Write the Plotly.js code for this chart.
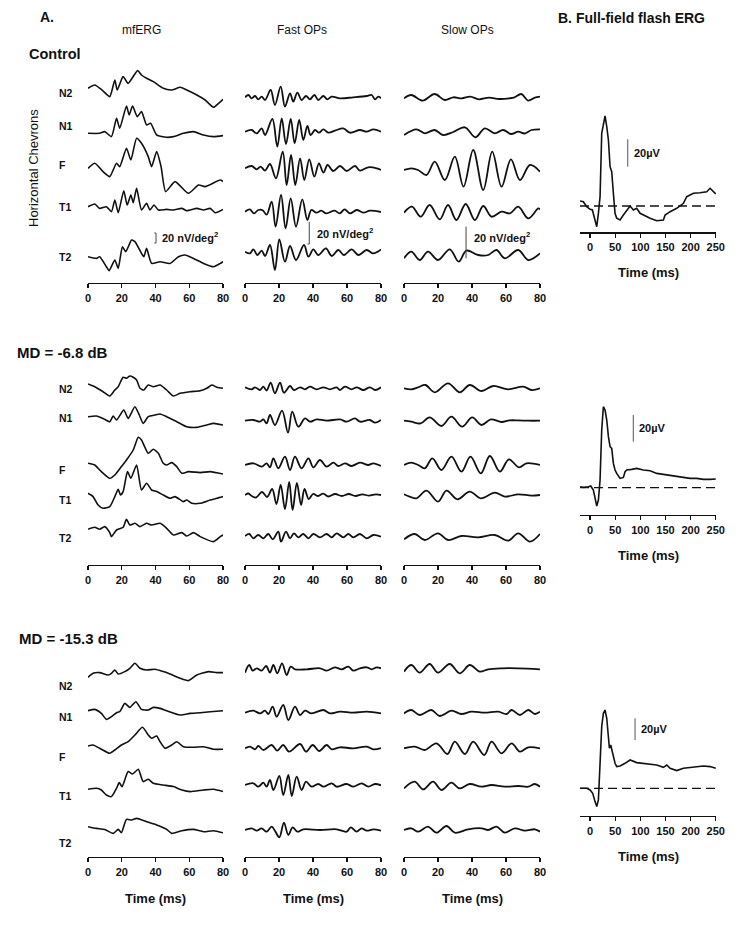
<!DOCTYPE html>
<html><head><meta charset="utf-8">
<script src="https://cdn.plot.ly/plotly-3.0.1.min.js"></script>
<style>html,body{margin:0;padding:0;background:#fff}#chart{width:750px;height:934px}</style>
</head><body><div id="chart"></div>
<script>
// ===== DATA (time in ms, amplitude in display units) =====
const traceNames = ['N2','N1','F','T1','T2'];
const mfTicks = [0,20,40,60,80];
const ffTicks = [0,50,100,150,200,250];

// ---- Control : mfERG ----
const ctrl_mf_N2_t = [0,4,8.5,12.9,15.9,17.3,20.8,23.8,29.4,31.7,34.7,38.7,44.6,49.6,54.6,58.5,64.5,69.4,74.4,77.4,80];
const ctrl_mf_N2_v = [-1,2.3,-3,-9.3,7.3,-2.7,10.7,4,16.7,12.3,9,5.7,-1,-2.7,0,-2.7,-7.7,-12.7,-20,-16,-12];
const ctrl_mf_N1_t = [0,6.9,9.9,13.9,16.9,18.8,22.8,24.4,26.4,29.2,31.7,34.7,37.1,40.7,46.6,50.6,56.5,62.5,68.5,74.4,80];
const ctrl_mf_N1_v = [0,0,1.7,-3.3,15,5,27.3,18.3,27.3,16.7,21.7,8.3,10,-1.7,-4,-3.3,0,1.7,-1.7,-3.3,-2.3];
const ctrl_mf_F_t = [0,4,8.9,12.9,16.9,18.8,22.8,25.4,28.8,31.7,35.7,37.7,40.7,43.3,46,51.6,59.5,65.5,69.4,78.4,80];
const ctrl_mf_F_v = [0,5,-3.3,-8.3,5,1.7,20,8.3,30,25,11.7,1.7,16.7,1.7,-23.3,-13.3,-25,-16.7,-18.3,-11.7,-13.3];
const ctrl_mf_T1_t = [0,4,6.9,10.9,13.9,15.9,17.9,21.2,23.2,25.4,26.8,28.8,31.7,34.7,36.7,39.1,41.7,46.6,50.6,55.6,58.5,64.5,68.5,72.4,75.4,80];
const ctrl_mf_T1_v = [0,2.7,-1.7,0,-5,6.7,-6,16,1.7,11.7,4,18.3,-3.3,3.3,-3.3,1.7,-3.3,-2.7,-3.3,-1.7,-4,-1.7,-3.3,-1.7,-6,-2.7];
const ctrl_mf_T2_t = [0,5,6.9,10.9,12.5,15.9,17.9,20.4,22.4,25.8,27.8,31.7,33.1,34.7,37.7,42.7,48.6,53.6,57.5,62.5,68.5,74.4,78.4,80];
const ctrl_mf_T2_v = [0,-1.7,0,-10,-14,-3.3,-11.7,10,5,16.7,15,3.3,0,8.3,-6.7,-5,-6.7,0,1.7,-1.7,-6.7,-10,-6.7,-5];

// ---- Control : Fast OPs ----
const ctrl_fast_N2_t = [0,2,3.9,5.9,7.8,9.8,11.8,15.1,17.6,21,23.5,26.5,28.4,30.8,33.3,35.9,38.2,40.8,43.1,46.1,48.4,51,55.9,63.7,71.6,74.5,76.5,78.4,80];
const ctrl_fast_N2_v = [0,2.3,-1,1.3,-2,0.7,-2.7,7.3,-7.7,10.7,-9.3,4,-4.3,4.7,-2.7,1.3,-2,2.3,-2.7,1.3,-2,0.7,-1,0,1.3,2.3,-2,0.7,-1];
const ctrl_fast_N1_t = [0,3.9,6.9,9.8,11.8,16.1,19,21.6,24.1,26.9,29.2,31.9,34.3,36.7,38.6,41.2,43.5,46.1,49,52.9,57.8,61.8,67.6,71.6,75.5,80];
const ctrl_fast_N1_v = [0,1.7,-1.7,3.3,-3.3,12.7,-15,13.3,-12.3,12.7,-11.7,11.7,-8.3,5.7,-3.3,1.7,-1,2.3,-1,1,3.3,-1,1.7,0,2.3,0];
const ctrl_fast_F_t = [0,3.9,6.9,9.2,11.8,14.7,18.2,22.2,24.5,27.1,29.6,32.4,34.9,37.8,40.8,43.5,46.1,48.6,51.9,55.9,59.8,64.7,67.6,72.5,77.5,80];
const ctrl_fast_F_v = [0,2.3,-1,1.7,-2.3,4.3,-10,16.7,-16.7,13.3,-16.7,10,-11.7,9,-8.3,5,-4.3,3.3,-2.7,2.3,-2.7,2.3,-2.3,1,0,-1.7];
const ctrl_fast_T1_t = [0,2.9,5.3,7.8,10.4,12.7,15.7,18,21.2,23.9,26.9,30,33.7,36.7,39,42,44.9,47.8,52.7,55.7,58.6,61.8,65.7,69.6,73.5,80];
const ctrl_fast_T1_v = [0,2.3,-1.7,1.7,1.5,-3,10,-15,16.7,-16.7,13.3,-15,12.3,-8.3,1.7,-1,1,-1.7,1,-1.7,2.3,-1.7,1.7,-1,1,-0.3];
const ctrl_fast_T2_t = [0,2.9,4.9,7.3,9.8,11.8,14.7,17.6,20.2,23.5,26.5,30,34.7,37.3,40.2,43.1,47.6,51,54.9,58.2,62.7,66.7,71.6,75.5,80];
const ctrl_fast_T2_v = [0,-1.7,2.3,-3.3,1,-4.3,6.7,-18.3,12.3,-10,5.7,-8.3,6.7,-5,2.3,-3.3,3.3,-4.3,1.7,-3.3,2.3,-3.3,1.7,-1.7,2.3];

// ---- Control : Slow OPs ----
const ctrl_slow_N2_t = [0,4.3,11,18,24,29,34,39,44,50,56,62,65,69,73,77,80];
const ctrl_slow_N2_v = [0,3.3,-2.3,4.3,-1.7,1,0,1.7,-1,0.7,-0.7,0,1,4.3,-2.3,0.7,1.7];
const ctrl_slow_N1_t = [0,7.3,12.2,18,23,29,35.8,42,47.5,53.4,58.3,63,67.2,71,75,80];
const ctrl_slow_N1_v = [0,5.7,1.7,5,0,3,7.7,-2.3,6.7,1.7,5,1,3.3,1.5,5,5.7];
const ctrl_slow_F_t = [0,4.3,8.3,13.2,18.1,24,29.9,35,40.7,46.6,51.9,57.4,62.9,68.2,74.1,80];
const ctrl_slow_F_v = [0,1.7,0,-5,8.3,-10,13.3,-16.7,20,-20,18.3,-16.7,10.7,-10,5,-1.7];
const ctrl_slow_T1_t = [0,4.7,9.8,15.1,21,25.9,30.8,36.3,41.7,46.6,51.5,57.4,62.3,67.2,73.1,79,80];
const ctrl_slow_T1_v = [0,6,-4,7.7,-6.7,7.7,-7.3,8.7,-7.3,6.7,-4,1,-0.7,6,-5.7,4.3,3.3];
const ctrl_slow_T2_t = [0,4.3,9.2,14.1,20,26.9,32.2,36.7,43.6,49.5,54.4,59.3,67.2,73.1,80];
const ctrl_slow_T2_v = [0,6.7,-1.7,6.7,-1.7,9,-3.3,7.7,3.3,3.3,8.3,0,8.3,-1.7,5];

// ---- Control : full-field flash ERG ----
const ctrl_ff_t = [-20,-13.4,-6.6,0,4.6,8.6,13.3,16.6,19.9,23.2,26.5,29.8,33.2,36.5,39.8,43.1,46.4,49.7,53,59.7,66.3,72.9,79.6,86.2,92.8,99.5,106.1,112.7,119.4,132.6,145.9,149.2,159.2,172.4,185.7,192.3,205.6,218.8,232,238.7,245.4,250];
const ctrl_ff_v = [5,4.3,-0.7,-3.3,-4,-10.7,-20.7,-7.3,9.3,72.7,81,90,79.3,66,39.3,34.3,12.7,-7.3,-12.3,-14,-9,-4,0,-4,-2.3,-7.3,-9,-10.7,-12.3,-14.7,-14,-9,-5.7,-2.3,2.7,9.3,12.7,13.3,14.3,17.7,14.3,12];

// ---- MD = -6.8 dB : mfERG ----
const md1_mf_N2_t = [0,4,8.9,12.9,15.9,17.9,20.8,22.8,24.8,26.8,28.8,30.8,33.1,35.7,38.7,42.7,46.6,50.6,54.6,60.5,66.5,70.4,73.4,76.4,80];
const md1_mf_N2_v = [0,-2.7,-7.7,-12,-6,-2.7,6.7,5.7,8,6.7,4,-4.3,-6,-1,-2.7,-1,-6,-12,-9.3,-7.7,-6.7,-4.3,-1,-3.3,-4.3];
const md1_mf_N1_t = [0,5,8.9,12.9,14.9,16.9,21.2,23.8,27.8,30.4,32.7,35.7,39.7,42.7,46.6,52.6,58.5,64.5,70.4,74.4,80];
const md1_mf_N1_v = [0,0.7,-1.7,-5,0.7,-3.3,6.7,-1.7,10,1.7,-6.7,0,1.7,2.7,0,-5,-10,-10.7,-8.3,-6.7,-8.3];
const md1_mf_F_t = [0,4,7.9,12.9,15.9,19.8,22.8,26.8,29.8,31.7,35.7,38.7,41.7,44.6,46.6,49.6,52.6,55.6,59.5,66.5,72.4,80];
const md1_mf_F_v = [0,-1.7,-8.3,-15,-11.7,-3.3,3.3,13.3,26,23.3,10,14,10,0,-1.7,0.7,-3.3,-10,-8.3,-9.3,-8.3,-10.7];
const md1_mf_T1_t = [0,3,6,8.9,12.9,15.9,17.9,19.2,20.8,23.4,25.4,28.8,31.7,34.7,37.7,40.7,44.6,48.6,51.6,56.5,58.5,61.5,66.5,72.4,76.4,80];
const md1_mf_T1_v = [0,-3.3,-11.7,-15,-13.3,-3.3,4,-1.7,1.7,21.7,15,28.3,3.3,10,3.3,1.7,-1.7,-5,-3.3,-8.3,-6.7,-10,-10,-6.7,-5,-3.3];
const md1_mf_T2_t = [0,4,6.9,9.9,12.9,13.9,16.9,20.8,22.8,24.8,27.8,30.8,34.7,37.7,42.7,46.6,50.6,55.6,58.5,62.5,66.5,74.4,78.4,80];
const md1_mf_T2_v = [0,2,0,2.7,-3.3,-7.3,-0.7,2,10,4.3,6,2.7,6,4.3,6,1,-5.7,-3.3,-6.7,-3.3,-7.3,-12.3,-7.3,-5.7];

// ---- MD = -6.8 dB : Fast OPs ----
const md1_fast_N2_t = [0,3.9,5.9,8.8,10.8,12.7,15.1,17.6,20.6,22.9,26.5,28.8,32.4,35.3,38.2,42.2,46.1,50,53.9,55.9,58.8,62.7,65.7,69.6,73.5,76.5,80];
const md1_fast_N2_v = [0,-2,0,-2.7,0.7,-3.3,4.7,-6,4.7,-5.3,1.3,-2.7,0,-2,0.7,-2,0,-2,0,-2.7,0.7,-2,0,-2.7,0,-2.7,0];
const md1_fast_N1_t = [0,4.9,8.8,10.8,12.7,14.7,17.6,21.8,25.3,27.8,31.4,35.3,38.2,42.2,48,55.9,59.8,64.7,67.6,73.5,76.5,80];
const md1_fast_N1_v = [0,0.7,-1,1.3,-2.7,5.7,-4.3,10,-12,9,-6,2.3,-1,1.3,0,1.3,-1,2.3,-1,0.7,-2,0.7];
const md1_fast_F_t = [0,4.9,9.8,12.7,14.7,16.7,19.6,23.5,26.5,29.4,33.3,37.3,40.2,44.1,48,52,54.9,58.8,62.7,67.6,72.5,75.5,80];
const md1_fast_F_v = [0,1.7,-1.7,1.7,-2.3,6.7,-3.3,8.3,-5,8.3,-3.3,6.7,-2.3,5,-1.7,2.3,-1,1.7,-1,2.3,0,1.7,-1];
const md1_fast_T1_t = [0,2,4,6.5,10,13,16,18.5,21,23.5,26,28,30.5,33,35,37.5,40,43,46,49,53,57,61,65,69,73,77,80];
const md1_fast_T1_v = [0,1.5,-1,-2.5,3,-2,6,-9,10,-14,13,-15,12,-10,6,-4,1,-1,1.3,-1.5,1,-1,1,-1,0.7,-0.7,0.7,0];
const md1_fast_T2_t = [0,2.5,4.9,7.8,10.8,13.7,16.3,19.6,21.2,24.1,26.5,28.8,31.4,34.3,37.3,40.2,44.1,48,51,53.9,57.8,60.8,63.7,67.6,71.6,75.5,80];
const md1_fast_T2_v = [0,2,-2.3,1,-2.3,2,-3.3,4.3,-5.7,4.3,-2.3,2.7,-1.3,2,-2.3,2,-1.3,2,-1.3,2.7,-1.3,2,-1.3,2,-2.3,1,-0.7];

// ---- MD = -6.8 dB : Slow OPs ----
const md1_slow_N2_t = [0,4.3,8.3,12.6,18.1,25.9,32.8,38.7,45.6,52.5,61.3,70.1,75,80];
const md1_slow_N2_v = [0,-1,1,3.3,-4,5,-4,3.3,-2.7,2.3,-1,1.7,-1.7,0];
const md1_slow_N1_t = [0,4.3,9.8,15.1,22,27.9,34.2,40.1,45.6,51.1,57.4,62,67.2,73,80];
const md1_slow_N1_v = [0,-1,-2.7,3.3,-5.3,4,-6,3.3,-4.3,1.3,-1.3,0.3,0.3,0,0];
const md1_slow_F_t = [0,4.3,8.3,12.2,16.7,22,27.9,33.8,39.1,45.2,50.5,56.4,61.7,67.6,72.1,80];
const md1_slow_F_v = [0,2.3,0,-3.3,6.7,-5,8.3,-6.7,8.3,-8.3,9,-6.7,5.7,-2.3,1.7,0];
const md1_slow_T1_t = [0,3.3,7.3,13.2,20,25,31.4,38.7,45.2,53.4,59.3,67.2,75,80];
const md1_slow_T1_v = [0,-2.3,-4,3.7,-7.3,3.7,-5,2.7,-4,1.7,-2.3,0,-1.3,-0.7];
const md1_slow_T2_t = [0,6.3,12.2,20,25.9,33.8,43.6,53.4,61.3,67.2,74.1,80];
const md1_slow_T2_v = [0,5.3,-0.7,6,-0.7,3.3,2,4.3,-1.3,6,-2.3,5.3];

// ---- MD = -6.8 dB : full-field flash ERG ----
const md1_ff_t = [-19.9,-13.3,-3.3,1.3,6.6,9.9,13.3,16.6,19.9,23.2,26.5,29.8,33.2,36.5,39.8,43.1,46.4,49.7,53,59.7,66.3,69.6,72.9,82.9,92.8,106.1,119.4,132.6,145.9,159.2,172.4,185.7,198.9,212.2,225.5,238.7,250];
const md1_ff_v = [1,0.3,1,1.7,-2.3,-12.3,-18.3,-12.3,7.7,57.7,81,77.7,67.7,51,41,39.3,24.3,17.7,14.3,9.3,10.3,16,17.7,18.3,19.3,17.7,17,14.3,13.3,11.7,11,10,9.3,9.3,8.3,8.3,8.7];

// ---- MD = -15.3 dB : mfERG ----
const md2_mf_N2_t = [0,3,6.9,11.9,13.9,15.9,17.9,21.8,24.8,27.8,30.8,34.7,39.7,44.6,48.6,54.6,59.5,64.5,71.4,76.4,80];
const md2_mf_N2_v = [0,4,4.7,2.3,4,7.3,3.3,5.7,9,14,9,7.3,8,5.7,3.3,-1,-3.3,2.3,5.7,4.7,4.7];
const md2_mf_N1_t = [0,4,7.9,10.9,13.9,16.9,18.8,21.8,24.8,28.4,31.7,35.7,38.7,42.7,46.6,54.6,60.5,66.5,72.4,80];
const md2_mf_N1_v = [0,1.3,-2.7,-8.7,-6,-2,-1,7.3,3.3,9,1.3,0.7,3.3,2.3,0,-4.3,-2.7,-2,-1,0];
const md2_mf_F_t = [0,3,6.9,12.9,15.9,19.8,23.8,27.8,32.3,35.7,37.7,40.7,42.7,45.6,49.6,52.6,56.5,62.5,68.5,74.4,80];
const md2_mf_F_v = [0,1,-2.3,-7.3,-4,1,4.3,11,18.7,11,7.7,10,4.3,-2.3,1,4.3,-0.7,-1.3,-0.7,-3.3,-3.3];
const md2_mf_T1_t = [0,5,7.9,10.9,13.9,16.9,18.5,20.2,23.8,26.4,29.8,32.7,35.7,38.7,44.6,50.6,55.6,60.5,68.5,74.4,80];
const md2_mf_T1_v = [0,1,-0.7,-5.7,-7.3,1,6.7,2.7,17.7,15.3,20,7.7,10,6,4.3,2.7,-0.7,-2.3,-0.7,0,-2.3];
const md2_mf_T2_t = [0,5,9.9,14.9,17.9,19.8,22.8,25.8,28.8,34.7,40.7,46.6,49.6,55.6,62.5,68.5,74.4,80];
const md2_mf_T2_v = [0,-1.7,-2.7,-6.7,-2.7,-6,7.3,6.7,8.3,5,1.7,-2.7,-6.7,-4,-2.7,-5,-4,-6];

// ---- MD = -15.3 dB : Fast OPs ----
const md2_fast_N2_t = [0,2.5,4.5,6.9,9.8,12.4,14.7,16.7,19,21.8,24.5,26.9,29.4,36.3,44.1,48,52.9,56.9,60.8,63.7,67.6,71.6,74.5,77.5,80];
const md2_fast_N2_v = [-3.5,4.3,-1.3,1,-1.3,3.3,-3.3,4.3,-4,6,-5.7,2.7,0,0,1,-1.3,2,0,2.7,-1.3,1,2,0,2,1];
const md2_fast_N1_t = [0,4.9,8.8,11.8,13.7,16.3,18.6,22.5,25.5,29.4,32.4,35.3,39.2,46.1,50,55.9,63.7,71.6,80];
const md2_fast_N1_v = [0,2,-0.7,2,-1.3,6,-4,7.7,-7.3,6,-2.3,2,-0.7,2.7,-0.7,1,0,1,-0.7];
const md2_fast_F_t = [0,2.9,5.9,7.8,10.8,15.7,19,22.5,25.9,32.4,35.9,39.8,43.7,48,51,55.9,63.7,71.6,75.5,80];
const md2_fast_F_v = [0,1.7,-1,2.3,-1.7,3.3,-2.3,3.3,-3.3,4.3,-3.3,3.3,-2.7,3.3,-1,1,0,1.7,-1,0.3];
const md2_fast_T1_t = [0,4.9,7.8,10.8,12.7,14.7,16.7,20.2,22.5,25.5,27.5,30.4,33.3,35.9,39.2,43.1,46.1,51,53.9,59.8,63.7,68.6,72.5,76.5,80];
const md2_fast_T1_v = [0,1.7,-1.7,2.3,-1.7,5,-5,9,-10,10,-11,8.3,-5,3.3,-1.7,1,-1.7,1.7,-1.7,1,-1.7,1.7,-1.7,1,-0.3];
const md2_fast_T2_t = [0,3.9,6.9,9.8,12.7,15.7,17.6,20.2,22.9,25.5,28,30.8,34.3,44.1,53.9,59.8,62.2,65.7,68.6,71.6,75.5,80];
const md2_fast_T2_v = [0,1.7,-0.7,1.7,-1.7,3.3,-0.7,-7.3,7.3,-5,2.7,-1.7,0.7,0,0.7,-1.7,2.7,-1.7,1.7,-0.7,0.7,-0.7];

// ---- MD = -15.3 dB : Slow OPs ----
const md2_slow_N2_t = [0,4.3,9.2,15.1,20,26.9,32.8,38.7,44.6,49.5,57.4,67.2,80];
const md2_slow_N2_v = [-2.3,4.3,-3.3,5.3,-3.3,5.3,-4,4.3,-2.3,0,1,1,0];
const md2_slow_N1_t = [0,4.3,9.2,16.1,21,27.9,33.8,39.7,47.5,55.4,60.3,63.3,68.2,73.1,77,80];
const md2_slow_N1_v = [-0.7,2.7,-2.3,2.7,-3.3,2,-1.3,1,0,1,-1.3,2.7,-2.3,2.7,-1.3,1];
const md2_slow_F_t = [0,6.3,12.2,19.1,25.5,29.9,35.8,40.7,47.2,51.5,57.4,63.3,68.2,73.1,80];
const md2_slow_F_v = [0,1.7,-1.7,5,-5.7,6.7,-5.7,6.7,-6.7,6.7,-5,5,-3.3,1,0];
const md2_slow_T1_t = [0,6.3,11.2,17.1,22,27.9,32.8,38.7,45.6,51.5,59.3,67.2,73.1,77,80];
const md2_slow_T1_v = [-1.7,5,-2.7,5,-3.3,4,-1.7,2.7,0,1.7,0,0.7,0,2.7,0];
const md2_slow_T2_t = [0,4.3,8.3,14.1,19.1,25,29.9,37.7,45.6,49.5,54.4,59.3,65.2,71.1,77,80];
const md2_slow_T2_v = [0,1.7,-1.7,3.3,-2.7,4,-2.7,0.7,1.7,0,3.3,-2.7,1.7,-0.7,0.7,-1.7];

// ---- MD = -15.3 dB : full-field flash ERG ----
const md2_ff_t = [-19.9,-6.6,0,5.3,9.9,13.3,16.6,19.9,23.2,26.5,29.8,33.2,36.5,38.5,41.1,45.1,49.7,53,59.7,69.6,79.6,92.8,106.1,119.4,132.6,145.9,152.5,159.2,172.4,185.7,205.6,225.5,238.7,250];
const md2_ff_v = [0,0,-1.7,-5,-13.3,-18.3,-11.7,18.3,61.7,75,78.3,70,55,40,43.3,33.3,25,21.7,22.3,25,28.3,25.7,25,24.3,23.3,21,23.3,20,17.7,20,21,22.3,21.7,20];

// ===== LAYOUT / DRAWING =====
const W = 750, H = 934;
const FONT = 'Liberation Sans, Arial, Helvetica, sans-serif';
const INK = '#111';
const px2x = p => p / W, px2y = p => 1 - p / H;

const traces = [];
const layout = {
  width: W, height: H, margin: {l:0, r:0, t:0, b:0},
  paper_bgcolor: '#fff', plot_bgcolor: 'rgba(0,0,0,0)',
  showlegend: false, shapes: [], annotations: [],
  font: {family: FONT, color: INK}
};
let axN = 0;
function addPanel(xl, xr, axisPix, topPix, xrange, tickvals) {
  axN++;
  const s = axN === 1 ? '' : String(axN);
  layout['xaxis' + s] = {
    domain: [px2x(xl), px2x(xr)], range: xrange, anchor: 'y' + s,
    showline: true, linecolor: INK, linewidth: 1.4, mirror: false,
    ticks: 'outside', ticklen: 4, tickwidth: 1.3, tickcolor: INK,
    tickmode: 'array', tickvals: tickvals, ticktext: tickvals.map(String),
    showgrid: false, zeroline: false, fixedrange: true,
    tickfont: {family: FONT, size: 11, color: INK, weight: 'bold'}
  };
  layout['yaxis' + s] = {
    domain: [px2y(axisPix), px2y(topPix)], range: [0, axisPix - topPix],
    anchor: 'x' + s, visible: false, fixedrange: true, showgrid: false, zeroline: false
  };
  return {xa: 'x' + s, ya: 'y' + s, axisPix: axisPix};
}
function addTrace(p, t, v, basePix, shape, smooth, width) {
  const off = p.axisPix - basePix;
  traces.push({
    x: t, y: v.map(a => a + off), xaxis: p.xa, yaxis: p.ya, type: 'scatter', mode: 'lines',
    line: {color: INK, width: width || 1.7, shape: shape, smoothing: smooth},
    hoverinfo: 'skip', showlegend: false
  });
}
function note(text, x, y, opts) {
  layout.annotations.push(Object.assign({
    text: text, x: px2x(x), y: px2y(y), xref: 'paper', yref: 'paper',
    showarrow: false, xanchor: 'left', yanchor: 'middle',
    font: {family: FONT, size: 11, color: INK, weight: 'bold'}
  }, opts || {}));
}

const colX = {mf: [88, 223], fast: [245, 381], slow: [404, 540], ff: [580, 716]};
const rows = [
  {axis: 283, top: 50, ffAxis: 232.3, ffTop: 95, ffBase: 206,
   mf: [[ctrl_mf_N2_t, ctrl_mf_N2_v], [ctrl_mf_N1_t, ctrl_mf_N1_v], [ctrl_mf_F_t, ctrl_mf_F_v], [ctrl_mf_T1_t, ctrl_mf_T1_v], [ctrl_mf_T2_t, ctrl_mf_T2_v]],
   fast: [[ctrl_fast_N2_t, ctrl_fast_N2_v], [ctrl_fast_N1_t, ctrl_fast_N1_v], [ctrl_fast_F_t, ctrl_fast_F_v], [ctrl_fast_T1_t, ctrl_fast_T1_v], [ctrl_fast_T2_t, ctrl_fast_T2_v]],
   slow: [[ctrl_slow_N2_t, ctrl_slow_N2_v], [ctrl_slow_N1_t, ctrl_slow_N1_v], [ctrl_slow_F_t, ctrl_slow_F_v], [ctrl_slow_T1_t, ctrl_slow_T1_v], [ctrl_slow_T2_t, ctrl_slow_T2_v]],
   ff: [ctrl_ff_t, ctrl_ff_v],
   base: {mf: [87.3, 133.3, 168.3, 206.7, 256.7], fast: [97.3, 131.7, 168.3, 211.7, 251.7], slow: [98.3, 135, 170, 212.7, 258.3]},
   labels: [93, 126, 165, 207, 257]},
  {axis: 565, top: 355, ffAxis: 515, ffTop: 385, ffBase: 487.7,
   mf: [[md1_mf_N2_t, md1_mf_N2_v], [md1_mf_N1_t, md1_mf_N1_v], [md1_mf_F_t, md1_mf_F_v], [md1_mf_T1_t, md1_mf_T1_v], [md1_mf_T2_t, md1_mf_T2_v]],
   fast: [[md1_fast_N2_t, md1_fast_N2_v], [md1_fast_N1_t, md1_fast_N1_v], [md1_fast_F_t, md1_fast_F_v], [md1_fast_T1_t, md1_fast_T1_v], [md1_fast_T2_t, md1_fast_T2_v]],
   slow: [[md1_slow_N2_t, md1_slow_N2_v], [md1_slow_N1_t, md1_slow_N1_v], [md1_slow_F_t, md1_slow_F_v], [md1_slow_T1_t, md1_slow_T1_v], [md1_slow_T2_t, md1_slow_T2_v]],
   ff: [md1_ff_t, md1_ff_v],
   base: {mf: [384, 416.7, 463.3, 493.3, 529.3], fast: [387.3, 420.7, 465, 495, 536], slow: [388.3, 420.7, 465, 494.3, 539.3]},
   labels: [389, 417.7, 470, 500, 538]},
  {axis: 857, top: 645, ffAxis: 816, ffTop: 690, ffBase: 788.3,
   mf: [[md2_mf_N2_t, md2_mf_N2_v], [md2_mf_N1_t, md2_mf_N1_v], [md2_mf_F_t, md2_mf_F_v], [md2_mf_T1_t, md2_mf_T1_v], [md2_mf_T2_t, md2_mf_T2_v]],
   fast: [[md2_fast_N2_t, md2_fast_N2_v], [md2_fast_N1_t, md2_fast_N1_v], [md2_fast_F_t, md2_fast_F_v], [md2_fast_T1_t, md2_fast_T1_v], [md2_fast_T2_t, md2_fast_T2_v]],
   slow: [[md2_slow_N2_t, md2_slow_N2_v], [md2_slow_N1_t, md2_slow_N1_v], [md2_slow_F_t, md2_slow_F_v], [md2_slow_T1_t, md2_slow_T1_v], [md2_slow_T2_t, md2_slow_T2_v]],
   ff: [md2_ff_t, md2_ff_v],
   base: {mf: [677.3, 710.7, 746, 789.3, 826.7], fast: [669.3, 712.7, 748.3, 785, 830], slow: [669.3, 712.7, 748.3, 786.7, 830]},
   labels: [685.7, 717.3, 756.7, 795.7, 842.7]}
];
const ffBars = [[75, 139.3, 166.7], [86, 415, 441.7], [89.5, 718.3, 740]];
const panelsByRow = [];

rows.forEach((r, ri) => {
  const P = {};
  ['mf', 'fast', 'slow'].forEach(c => {
    const p = addPanel(colX[c][0], colX[c][1], r.axis, r.top, [0, 80], mfTicks);
    P[c] = p;
    r[c].forEach((tv, k) => {
      addTrace(p, tv[0], tv[1], r.base[c][k],
        'spline', c === 'mf' ? 0.55 : 1.0, c === 'mf' ? 1.6 : 1.8);
    });
  });
  const pf = addPanel(colX.ff[0], colX.ff[1], r.ffAxis, r.ffTop, [-20, 250.5], ffTicks);
  P.ff = pf;
  const bOff = r.ffAxis - r.ffBase;
  layout.shapes.push({type: 'line', xref: pf.xa, yref: pf.ya, x0: -20, x1: 250, y0: bOff, y1: bOff,
    line: {color: INK, width: 1.3, dash: '9px,5px'}});
  addTrace(pf, r.ff[0], r.ff[1], r.ffBase, 'linear', 0, 1.6);
  // 20 µV scale bar
  const sb = ffBars[ri];
  layout.shapes.push({type: 'line', xref: pf.xa, yref: pf.ya, x0: sb[0], x1: sb[0],
    y0: r.ffAxis - sb[1], y1: r.ffAxis - sb[2], line: {color: '#555', width: 1}});
  layout.annotations.push({text: '20\u00b5V', xref: pf.xa, yref: pf.ya, x: sb[0] + 8,
    y: r.ffAxis - (sb[1] + sb[2]) / 2, showarrow: false, xanchor: 'left', yanchor: 'middle',
    font: {family: FONT, size: 11, color: INK, weight: 'bold'}});
  // Time label under flash ERG
  note('Time (ms)', (colX.ff[0] + colX.ff[1]) / 2, r.ffAxis + 40, {xanchor: 'center', font: {family: FONT, size: 13, color: INK, weight: 'bold'}});
  // trace labels
  traceNames.forEach((n, k) => note(n, 57, r.labels[k], {font: {family: FONT, size: 10.5, color: INK, weight: 'bold'}}));
  panelsByRow.push(P);
});

// control scale bars (nV/deg^2)
const P0 = panelsByRow[0];
layout.shapes.push({type: 'path', xref: P0.mf.xa, yref: P0.mf.ya,
  path: 'M 39.3,50 L 40.3,50 L 40.3,40 L 39.3,40', line: {color: '#444', width: 1}});
layout.annotations.push({text: '20 nV/deg<sup>2</sup>', xref: P0.mf.xa, yref: P0.mf.ya, x: 42.5, y: 46,
  showarrow: false, xanchor: 'left', yanchor: 'middle', font: {family: FONT, size: 11, color: INK, weight: 'bold'}});
layout.shapes.push({type: 'path', xref: P0.fast.xa, yref: P0.fast.ya,
  path: 'M 37.8,61.3 L 37.8,39 L 36.8,39', line: {color: '#444', width: 1}});
layout.annotations.push({text: '20 nV/deg<sup>2</sup>', xref: P0.fast.xa, yref: P0.fast.ya, x: 41, y: 50,
  showarrow: false, xanchor: 'left', yanchor: 'middle', font: {family: FONT, size: 11, color: INK, weight: 'bold'}});
layout.shapes.push({type: 'line', xref: P0.slow.xa, yref: P0.slow.ya,
  x0: 36.5, x1: 36.5, y0: 56.3, y1: 24.7, line: {color: '#444', width: 1}});
layout.annotations.push({text: '20 nV/deg<sup>2</sup>', xref: P0.slow.xa, yref: P0.slow.ya, x: 40, y: 46,
  showarrow: false, xanchor: 'left', yanchor: 'middle', font: {family: FONT, size: 11, color: INK, weight: 'bold'}});

// headings
note('A.', 38, 17, {font: {family: FONT, size: 14, color: INK, weight: 'bold'}});
note('B. Full-field flash ERG', 631, 18, {xanchor: 'center', font: {family: FONT, size: 14, color: INK, weight: 'bold'}});
note('mfERG', 141, 30, {xanchor: 'center', font: {family: FONT, size: 12, color: INK}});
note('Fast OPs', 302, 30, {xanchor: 'center', font: {family: FONT, size: 12, color: INK}});
note('Slow OPs', 467, 30, {xanchor: 'center', font: {family: FONT, size: 12, color: INK}});
note('Control', 27, 54, {font: {family: FONT, size: 14.5, color: INK, weight: 'bold'}});
note('MD = -6.8 dB', 15, 353, {font: {family: FONT, size: 15, color: INK, weight: 'bold'}});
note('MD = -15.3 dB', 17, 638, {font: {family: FONT, size: 15, color: INK, weight: 'bold'}});
note('Horizontal Chevrons', 33, 168, {xanchor: 'center', textangle: -90, font: {family: FONT, size: 13, color: INK}});
[[88, 223], [245, 381], [404, 540]].forEach(c =>
  note('Time (ms)', (c[0] + c[1]) / 2, 898, {xanchor: 'center', font: {family: FONT, size: 13, color: INK, weight: 'bold'}}));

Plotly.newPlot('chart', traces, layout, {staticPlot: true, displayModeBar: false});
</script>
</body></html>
